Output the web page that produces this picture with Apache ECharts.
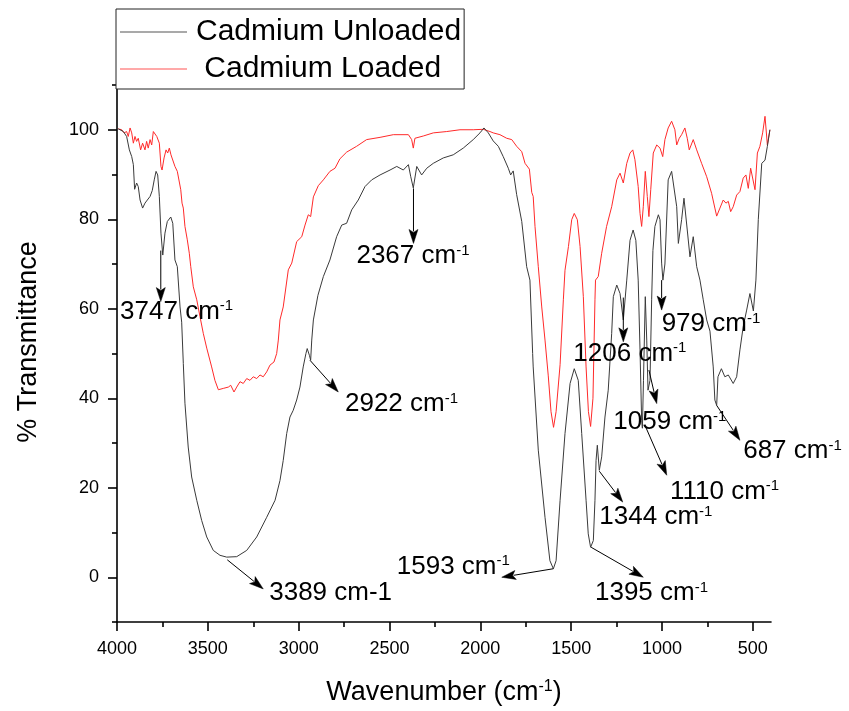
<!DOCTYPE html>
<html>
<head>
<meta charset="utf-8">
<script src="https://cdn.jsdelivr.net/npm/echarts@6/dist/echarts.min.js"></script>
<style>
html,body{margin:0;padding:0;background:#fff;}
#chart{width:849px;height:711px;}
</style>
</head>
<body>
<div id="chart"></div>
<script>
// ---------------- data ----------------
const unloadedWn = [3993,3965,3947,3932,3919,3910,3903,3892,3883,3873,3859,3846,3833,3818,3806,3795,3785,3776,3767,3758,3748,3736,3723,3704,3693,3681,3668,3653,3644,3635,3626,3608,3589,3561,3534,3506,3470,3433,3396,3341,3286,3231,3176,3130,3103,3085,3066,3048,3030,3011,2993,2975,2960,2953,2941,2934,2928,2919,2894,2864,2828,2791,2763,2736,2708,2672,2635,2598,2552,2497,2460,2424,2396,2383,2369,2350,2323,2295,2259,2204,2149,2094,2039,2002,1980,1956,1929,1901,1874,1846,1833,1819,1800,1772,1745,1727,1712,1709,1681,1644,1617,1598,1583,1561,1534,1506,1483,1461,1442,1418,1406,1393,1378,1369,1363,1356,1345,1332,1314,1296,1277,1268,1249,1231,1213,1194,1176,1159,1144,1131,1121,1112,1108,1102,1092,1084,1077,1066,1057,1050,1039,1020,1011,1002,995,984,966,947,919,910,892,879,861,846,828,809,791,773,754,736,718,709,699,692,673,654,635,608,589,571,553,534,516,497,483,470,451,433,420,406];
const unloadedT = [100.2,99.6,98.5,95.5,94.0,92.2,86.7,88.1,87.3,84.3,82.5,83.6,84.3,85.1,86.4,88.8,90.7,89.9,85.1,76.9,72.0,76.9,79.5,80.5,79.1,70.9,69.4,60.4,57.0,47.8,38.9,29.1,22.4,17.2,12.7,9.0,6.0,4.9,4.5,4.6,6.0,9.0,13.4,17.2,21.6,26.1,32.1,35.8,37.3,39.6,42.5,47.0,50.0,51.1,49.6,48.5,53.0,57.5,63.0,67.2,70.9,76.1,78.7,79.1,82.1,84.3,87.3,88.8,89.9,91.0,91.8,91.0,92.2,89.5,87.0,91.8,89.9,91.4,92.5,93.7,94.4,95.9,97.8,99.3,100.4,99.3,97.5,96.3,94.0,91.4,89.9,90.8,85.5,79.5,69.4,66.4,50.0,47.0,28.4,13.4,3.7,1.9,3.7,17.2,32.1,43.3,46.6,44.0,32.1,17.2,9.7,6.7,8.2,17.2,26.1,29.5,23.9,26.9,35.8,41.8,54.5,62.7,65.3,63.4,57.5,66.4,75.3,77.6,75.3,66.4,50.8,35.0,33.3,44.0,62.7,53.0,41.8,44.0,62.0,73.0,78.4,81.0,79.9,70.2,66.4,70.0,88.8,90.7,82.8,74.6,79.9,84.7,77.6,71.6,76.1,69.4,66.4,62.0,57.5,55.0,47.0,39.6,38.4,44.8,46.6,44.8,45.2,43.3,44.8,50.8,56.0,59.7,63.4,59.5,66.4,79.9,92.5,93.2,96.3,100.0];

const loadedWn = [3993,3974,3961,3947,3938,3928,3919,3910,3901,3892,3883,3870,3859,3846,3837,3828,3818,3809,3800,3791,3781,3767,3758,3752,3741,3730,3721,3712,3703,3693,3681,3668,3657,3649,3642,3635,3626,3613,3602,3594,3580,3561,3543,3525,3506,3479,3461,3442,3415,3387,3374,3356,3341,3323,3305,3286,3268,3250,3231,3213,3195,3176,3158,3136,3121,3112,3103,3085,3057,3038,3011,2983,2965,2947,2934,2919,2892,2864,2828,2800,2773,2736,2681,2626,2552,2479,2396,2378,2369,2360,2314,2259,2185,2112,2039,1984,1947,1929,1892,1855,1827,1800,1772,1754,1730,1717,1709,1699,1681,1662,1644,1626,1611,1597,1583,1561,1543,1534,1515,1497,1483,1466,1451,1433,1418,1405,1393,1380,1369,1366,1351,1332,1305,1277,1249,1231,1213,1194,1176,1161,1149,1131,1121,1112,1103,1092,1081,1072,1062,1048,1029,1011,996,984,966,947,929,919,905,892,874,861,850,828,809,782,754,727,709,699,681,663,648,635,622,608,589,571,553,538,525,512,501,488,475,461,446,433,420,406];
const loadedT = [100.2,100.0,99.3,99.6,98.5,100.4,99.3,97.0,98.5,97.4,98.1,95.5,97.0,95.5,97.4,95.9,97.8,96.6,99.6,99.9,98.5,97.0,91.8,91.0,93.7,95.5,94.8,95.9,94.4,94.8,91.8,90.7,91.0,86.6,83.6,82.5,78.4,75.4,72.4,69.4,64.9,62.0,58.2,54.5,51.2,47.0,44.0,41.9,42.2,42.5,42.9,41.4,42.5,43.7,43.3,44.4,44.0,44.8,44.4,45.2,44.8,45.9,47.4,48.1,50.0,53.0,57.5,60.4,68.7,70.2,75.0,76.1,78.7,81.0,80.6,85.0,87.5,88.8,90.7,91.4,93.5,95.0,96.3,97.8,98.3,98.9,98.9,97.8,95.9,98.1,98.6,99.3,99.6,100.0,100.0,100.1,99.6,99.3,98.9,98.1,97.8,96.3,95.1,92.5,91.2,86.0,85.1,78.4,69.4,60.4,53.0,45.0,37.0,33.5,37.0,47.5,62.0,68.6,73.9,79.9,81.3,79.9,73.9,62.7,47.0,37.0,33.7,40.0,62.0,66.4,67.2,72.4,78.4,82.8,88.8,90.3,88.1,92.5,94.8,95.5,93.3,87.3,81.3,78.4,82.8,90.7,85.1,80.6,86.6,94.8,96.6,95.9,94.0,97.8,100.4,101.9,100.0,96.6,98.1,98.9,100.4,98.1,95.5,97.8,95.5,92.5,89.5,85.8,82.5,80.7,82.5,84.3,83.6,84.0,81.7,82.8,85.4,86.2,89.2,89.9,86.9,91.4,91.8,86.6,94.8,96.3,99.3,103.0,96.6,100.0];

// tick values
const xMajorTicks = [4000,3500,3000,2500,2000,1500,1000,500];
const xMinorTicks = [3750,3250,2750,2250,1750,1250,750];
const yMajorTicks = [0,20,40,60,80,100];
const yMinorTicks = [-10,10,30,50,70,90,110];

// annotations
const annoNumber = ['3747','2367','2922','3389','1593','1395','1344','1206','979','1110','1059','687'];
const annoSup    = [true,true,true,false,true,true,true,true,true,true,true,true];
const annoLabelWn = [3983,2682,2745,3162,2460,1369,1345,1488,1002,956,1268,553];
const annoLabelT  = [59.4,71.8,38.7,-3.5,2.4,-3.5,13.4,50.0,56.6,19.2,34.7,28.2];
const arrowFromWn = [3759,2368,2938,3393,1598,1390,1345,1213,1002,1090,1072,699];
const arrowFromT  = [73.0,86.9,48.5,3.9,1.9,6.7,23.7,62.5,66.4,33.6,46.3,38.4];
const arrowToWn   = [3759,2368,2782,3195,1882,1103,1216,1213,1002,974,1029,571];
const arrowToT    = [61.6,74.6,41.4,-2.6,0.0,0.0,16.8,52.6,59.7,22.8,38.8,30.6];

// ---------------- build ----------------
const FONT = "'Liberation Sans', Arial, Helvetica, sans-serif";
const zip = (a, b) => a.map((v, i) => [v, b[i]]);
const plain = (v) => String(v);

const arrowData = arrowFromWn.map((v, i) => [v, arrowFromT[i], arrowToWn[i], arrowToT[i]]);
const labelData = annoLabelWn.map((v, i) => [v, annoLabelT[i], i]);

const chart = echarts.init(document.getElementById('chart'), null, {renderer: 'canvas'});

const axisCommonX = {type: 'value', min: 400, max: 4000, inverse: true, splitLine: {show: false}};
const axisCommonY = {type: 'value', min: -10, max: 110, splitLine: {show: false}};

const option = {
  animation: false,
  backgroundColor: '#fff',
  grid: {left: 117, right: 78, top: 85, bottom: 89, containLabel: false},
  legend: {
    orient: 'vertical',
    left: 116, top: 9,
    data: ['Cadmium Unloaded', 'Cadmium Loaded'],
    icon: 'rect',
    backgroundColor: '#fff',
    borderColor: '#222', borderWidth: 1,
    padding: [6, 3, 3, 4],
    itemWidth: 67, itemHeight: 1.2, itemGap: 3,
    formatter: (n) => n === 'Cadmium Loaded' ? ' ' + n : n,
    textStyle: {fontFamily: FONT, fontSize: 30, color: '#000', lineHeight: 34, padding: [0, 0, 0, 4]},
    selectedMode: false
  },
  xAxis: [
    Object.assign({}, axisCommonX, {
      position: 'bottom',
      name: '{n|Wavenumber (cm}{s|-1}{n|)}',
      nameLocation: 'middle', nameGap: 57,
      nameTextStyle: {
        rich: {
          n: {fontFamily: FONT, fontSize: 27, color: '#000'},
          s: {fontFamily: FONT, fontSize: 16, color: '#000', verticalAlign: 'top'}
        }
      },
      axisLine: {show: true, onZero: false, lineStyle: {color: '#000', width: 1.6}},
      axisTick: {show: true, inside: false, length: 9, customValues: xMajorTicks, lineStyle: {color: '#000', width: 1.6}},
      axisLabel: {show: true, customValues: xMajorTicks, formatter: plain, margin: 18, fontFamily: FONT, fontSize: 18, color: '#000'}
    }),
    Object.assign({}, axisCommonX, {
      position: 'bottom',
      axisLine: {show: false, onZero: false},
      axisTick: {show: true, inside: false, length: 5, customValues: xMinorTicks, lineStyle: {color: '#000', width: 1.6}},
      axisLabel: {show: false}
    })
  ],
  yAxis: [
    Object.assign({}, axisCommonY, {
      position: 'left',
      name: '% Transmittance',
      nameLocation: 'middle', nameGap: 75,
      nameTextStyle: {fontFamily: FONT, fontSize: 27, color: '#000', padding: [0, 0, 0, 23]},
      axisLine: {show: true, onZero: false, lineStyle: {color: '#000', width: 1.6}},
      axisTick: {show: true, inside: false, length: 9, customValues: yMajorTicks, lineStyle: {color: '#000', width: 1.6}},
      axisLabel: {show: true, customValues: yMajorTicks, formatter: plain, margin: 18, fontFamily: FONT, fontSize: 18, color: '#000'}
    }),
    Object.assign({}, axisCommonY, {
      position: 'left',
      axisLine: {show: false, onZero: false},
      axisTick: {show: true, inside: false, length: 5, customValues: yMinorTicks, lineStyle: {color: '#000', width: 1.6}},
      axisLabel: {show: false}
    })
  ],
  series: [
    {
      name: 'Cadmium Unloaded', type: 'line', xAxisIndex: 0, yAxisIndex: 0,
      data: zip(unloadedWn, unloadedT),
      symbol: 'none', showSymbol: false, smooth: false,
      lineStyle: {color: '#3a3a3a', width: 1}, itemStyle: {color: '#555'},
      z: 3
    },
    {
      name: 'Cadmium Loaded', type: 'line', xAxisIndex: 0, yAxisIndex: 0,
      data: zip(loadedWn, loadedT),
      symbol: 'none', showSymbol: false, smooth: false,
      lineStyle: {color: '#ff2a2a', width: 1}, itemStyle: {color: '#f55'},
      z: 2
    },
    {
      name: 'arrows', type: 'custom', xAxisIndex: 0, yAxisIndex: 0,
      data: arrowData, encode: {x: [0, 2], y: [1, 3]}, silent: true, z: 5,
      renderItem: function (params, api) {
        const p0 = api.coord([api.value(0), api.value(1)]);
        const p1 = api.coord([api.value(2), api.value(3)]);
        const dx = p1[0] - p0[0], dy = p1[1] - p0[1];
        const len = Math.sqrt(dx * dx + dy * dy) || 1;
        const ux = dx / len, uy = dy / len;
        const hl = 14, hw = 4.5;
        const bx = p1[0] - ux * hl, by = p1[1] - uy * hl;
        const nx = -uy, ny = ux;
        return {
          type: 'group',
          children: [
            {type: 'line', shape: {x1: p0[0], y1: p0[1], x2: bx + ux * 2, y2: by + uy * 2},
             style: {stroke: '#000', lineWidth: 1}},
            {type: 'polygon', shape: {points: [
              [p1[0], p1[1]],
              [bx + nx * hw, by + ny * hw],
              [bx + ux * 3, by + uy * 3],
              [bx - nx * hw, by - ny * hw]
            ]}, style: {fill: '#000', stroke: '#000', lineWidth: 0.5}}
          ]
        };
      }
    },
    {
      name: 'labels', type: 'custom', xAxisIndex: 0, yAxisIndex: 0,
      data: labelData, encode: {x: 0, y: 1}, silent: true, z: 6,
      renderItem: function (params, api) {
        const i = api.value(2);
        const p = api.coord([api.value(0), api.value(1)]);
        const txt = annoSup[i] ? '{n|' + annoNumber[i] + ' cm}{s|-1}' : '{n|' + annoNumber[i] + ' cm-1}';
        return {
          type: 'text', x: p[0], y: p[1],
          style: {
            text: txt, align: 'left', verticalAlign: 'middle', fill: '#000',
            rich: {
              n: {fontFamily: FONT, fontSize: 26, fill: '#000', color: '#000'},
              s: {fontFamily: FONT, fontSize: 15, fill: '#000', color: '#000', verticalAlign: 'top'}
            }
          }
        };
      }
    }
  ]
};
chart.setOption(option);
</script>
</body>
</html>
